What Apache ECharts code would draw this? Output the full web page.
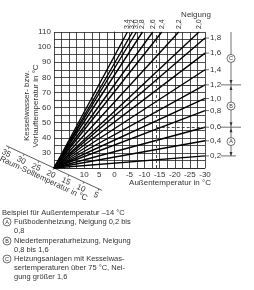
<!DOCTYPE html>
<html>
<head>
<meta charset="utf-8">
<script src="https://cdn.jsdelivr.net/npm/echarts@6/dist/echarts.min.js"></script>
<style>
    html, body {margin: 0; padding: 0; background: #fff;}
    #chart {width: 254px; height: 290px;}
</style>
</head>
<body>
<div id="chart"></div>
<script>
var FONT = '"Liberation Sans", Arial, sans-serif';

// Heizkennlinien, die rechts bei -30 °C enden
var neigungRight = [0.2, 0.4, 0.6, 0.8, 1.0, 1.2, 1.4, 1.6, 1.8];
var flowAtMinus30 = [28, 38, 47, 58, 66, 75, 85, 96, 106];
// Heizkennlinien, die oben bei 110 °C enden
var neigungTop = [2.0, 2.2, 2.4, 2.6, 2.8, 3.0, 3.2, 3.4];
var outsideAt110 = [-28, -21.3, -15.7, -12.7, -9.3, -7.3, -6, -4.3];
// Raum-Solltemperatur Skala
var raumTicks = [35, 30, 25, 20, 15, 10, 5];
var exampleTemp = -14;

var fmt = function (v) {
    return v.toFixed(1).replace('.', ',');
};

var series = [];
neigungRight.forEach(function (n, i) {
    series.push({
        type: 'line',
        symbol: 'none',
        lineStyle: {color: '#000', width: 1.4},
        data: [[20, 20], [-30, flowAtMinus30[i]]]
    });
});
neigungTop.forEach(function (n, i) {
    series.push({
        type: 'line',
        symbol: 'none',
        lineStyle: {color: '#000', width: 1.4},
        data: [[20, 20], [outsideAt110[i], 110]]
    });
});
// Beispiel -14 °C, gestrichelt
series.push({
    type: 'line',
    data: [],
    markLine: {
        silent: true,
        symbol: 'none',
        label: {show: false},
        lineStyle: {type: [3, 2], color: '#333', width: 0.9},
        data: [
            [{coord: [exampleTemp, 20]}, {coord: [exampleTemp, 110]}],
            [{coord: [exampleTemp, flowAtMinus30[5]]}, {coord: [-30, flowAtMinus30[5]]}],
            [{coord: [exampleTemp, flowAtMinus30[2]]}, {coord: [-30, flowAtMinus30[2]]}]
        ]
    }
});

var chart = echarts.init(document.getElementById('chart'));
chart.setOption({
    animation: false,
    grid: {left: 54, right: 49, top: 32, bottom: 122},
    xAxis: {
        type: 'value', inverse: true, min: -30, max: 20, interval: 2.5,
        axisLine: {show: true, lineStyle: {color: '#222', width: 0.8}},
        axisTick: {show: false},
        splitLine: {show: true, lineStyle: {color: '#222', width: 0.8}},
        axisLabel: {
            margin: 3, fontSize: 8, fontFamily: FONT, color: '#333',
            formatter: function (v) {
                return (v % 5 === 0 && v <= 10) ? String(v) : '';
            }
        }
    },
    yAxis: {
        type: 'value', min: 20, max: 110, interval: 5,
        axisLine: {show: true, lineStyle: {color: '#222', width: 0.8}},
        axisTick: {show: false},
        splitLine: {show: true, lineStyle: {color: '#222', width: 0.8}},
        axisLabel: {
            margin: 3, fontSize: 8, fontFamily: FONT, color: '#333',
            formatter: function (v) {
                return (v % 10 === 0 && v > 20) ? String(v) : '';
            }
        }
    },
    series: series
});

//zusätzliche Beschriftung
var g = [];
var txt = function (x, y, s, opt) {
    var o = {type: 'text', x: x, y: y, silent: true,
        style: {text: s, fontSize: 8, fontFamily: FONT, fill: '#333', align: 'left', verticalAlign: 'middle'}};
    if (opt) {
        for (var k in opt) o.style[k] = opt[k];
    }
    return o;
};
var circ = function (x, y, letter) {
    g.push({type: 'circle', shape: {cx: x, cy: y, r: 4}, silent: true, z: 10,
        style: {fill: '#fff', stroke: '#333', lineWidth: 0.7}});
    g.push({type: 'text', x: x, y: y + 0.3, silent: true, z: 11,
        style: {text: letter, fontSize: 5.5, fontFamily: FONT, fill: '#333', align: 'center', verticalAlign: 'middle'}});
};
var ln = function (x1, y1, x2, y2, w) {
    g.push({type: 'line', silent: true, shape: {x1: x1, y1: y1, x2: x2, y2: y2},
        style: {stroke: '#333', lineWidth: w || 0.7}});
};
var arrow = function (x, y, dir) {
    // dir 1 = nach unten, -1 = nach oben
    g.push({type: 'polygon', silent: true, shape: {points: [[x - 1.5, y - 4 * dir], [x + 1.5, y - 4 * dir], [x, y]]},
        style: {fill: '#333'}});
};

var O = chart.convertToPixel({gridIndex: 0}, [20, 20]);
var px = function (t, f) {
    return chart.convertToPixel({gridIndex: 0}, [t, f]);
};

// Achsentitel
g.push(txt(170, 183, 'Außentemperatur in °C', {align: 'center'}));
g.push({type: 'text', x: 31, y: 106, rotation: Math.PI / 2, silent: true,
    style: {text: 'Kesselwasser- bzw.\nVorlauftemperatur in °C', fontSize: 8, lineHeight: 9,
        fontFamily: FONT, fill: '#333', align: 'center', verticalAlign: 'middle'}});
g.push(txt(196, 15, 'Neigung', {align: 'center'}));

// Beschriftung der oben endenden Kurven
neigungTop.forEach(function (n, i) {
    var p = px(outsideAt110[i], 110);
    g.push({type: 'text', x: p[0], y: p[1] - 3, rotation: Math.PI / 2, silent: true,
        style: {text: fmt(n), fontSize: 7, fontFamily: FONT, fill: '#333', align: 'left', verticalAlign: 'middle'}});
});

// Beschriftung der rechts endenden Kurven, mit Hinweisstrich
neigungRight.forEach(function (n, i) {
    var p = px(-30, flowAtMinus30[i]);
    ln(p[0], p[1], p[0] + 4, p[1], 0.7);
    g.push(txt(p[0] + 5, p[1], fmt(n)));
});

// Raum-Solltemperatur Achse (schräg)
var ang = 25 * Math.PI / 180;
var ux = Math.cos(ang), uy = Math.sin(ang);
var nx = -Math.sin(ang), ny = Math.cos(ang);
var k = 3.3;
var P = function (t) {
    return [O[0] - (t - 20) * k * ux, O[1] - (t - 20) * k * uy];
};
var a = P(36), b = P(4);
ln(a[0], a[1], b[0], b[1], 0.8);
raumTicks.forEach(function (t) {
    var p = P(t);
    ln(p[0], p[1], p[0] + nx * 2, p[1] + ny * 2, 0.7);
    g.push({type: 'text', x: p[0] + nx * 7, y: p[1] + ny * 7, rotation: -ang, silent: true,
        style: {text: String(t), fontSize: 8, fontFamily: FONT, fill: '#333', align: 'center', verticalAlign: 'middle'}});
});
var pm = P(21.5);
g.push({type: 'text', x: pm[0] + nx * 14, y: pm[1] + ny * 14, rotation: -ang, silent: true,
    style: {text: 'Raum-Solltemperatur in °C', fontSize: 8, fontFamily: FONT, fill: '#333', align: 'center', verticalAlign: 'middle'}});

// Bereiche A, B, C rechts
var xr = 231;
var yTop = px(-30, 110)[1];
var y12 = px(-30, flowAtMinus30[5])[1];
var y06 = px(-30, flowAtMinus30[2])[1];
var y02 = px(-30, flowAtMinus30[0])[1];
ln(xr, yTop, xr, y02, 0.7);
ln(221, y12, 241, y12, 0.7);
ln(221, y06, 241, y06, 0.7);
ln(221, y02, 236, y02, 0.7);
arrow(xr, y12 - 1, 1);
arrow(xr, y12 + 1, -1);
arrow(xr, y06 - 1, 1);
arrow(xr, y06 + 1, -1);
arrow(xr, y02, 1);
circ(xr, (yTop + y12) / 2, 'C');
circ(xr, (y12 + y06) / 2, 'B');
circ(xr, (y06 + y02) / 2, 'A');

// Legende unten
var small = {fontSize: 7.5};
g.push(txt(2, 213, 'Beispiel für Außentemperatur –14 °C', small));
circ(7, 222, 'A');
g.push(txt(14, 222, 'Fußbodenheizung, Neigung 0,2 bis', small));
g.push(txt(14, 231, '0,8', small));
circ(7, 241, 'B');
g.push(txt(14, 241, 'Niedertemperaturheizung, Neigung', small));
g.push(txt(14, 250, '0,8 bis 1,6', small));
circ(7, 259, 'C');
g.push(txt(14, 259, 'Heizungsanlagen mit Kesselwas-', small));
g.push(txt(14, 268, 'sertemperaturen über 75 °C, Nei-', small));
g.push(txt(14, 277, 'gung größer 1,6', small));

chart.setOption({graphic: g});
</script>
</body>
</html>
